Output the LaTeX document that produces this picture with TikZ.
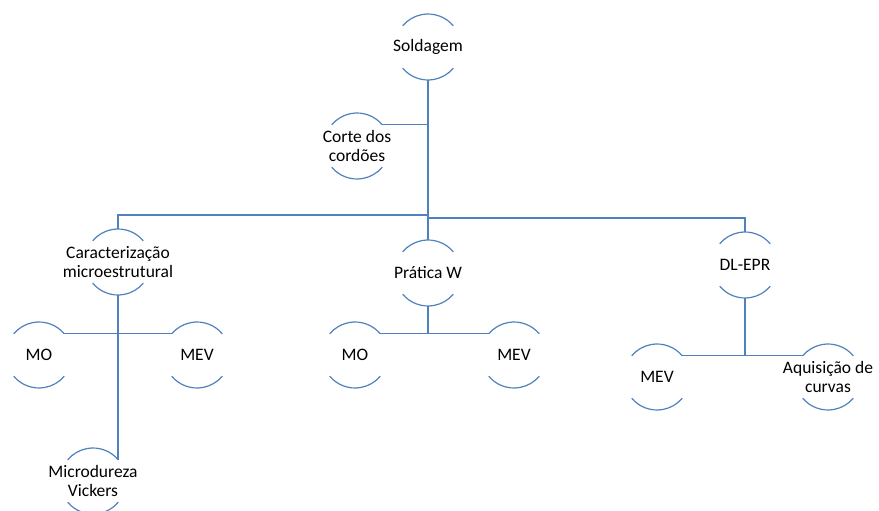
\documentclass[tikz,border=0pt]{standalone}
\usepackage{fontspec}
\setmainfont{Carlito}
\usetikzlibrary{calc}
\definecolor{linkblue}{RGB}{79,129,189}

\begin{document}
\begin{tikzpicture}[x=1pt, y=1pt,
    bubble/.style={font=\fontsize{17.5}{19}\selectfont, align=center, inner sep=0pt},
    link/.style={draw=linkblue, line width=1.2pt}]
    \useasboundingbox (0,0) rectangle (879,-511);

    % Top of the tree
    \node[bubble] (sold) at (428,-47) {Soldagem};
    \node[bubble] (corte) at (357,-146) {Corte dos\\cordões};

    % Second level
    \node[bubble] (carac) at (118,-262) {Caracterização\\microestrutural};
    \node[bubble] (pratica) at (428,-273) {Prática W};
    \node[bubble] (dlepr) at (745,-265) {DL-EPR};

    % Leaves
    \node[bubble] (mo1) at (39,-355) {MO};
    \node[bubble] (mev1) at (197,-355) {MEV};
    \node[bubble] (micro) at (93,-481) {Microdureza\\Vickers};
    \node[bubble] (mo2) at (355,-355) {MO};
    \node[bubble] (mev2) at (514,-355) {MEV};
    \node[bubble] (mev3) at (657,-377) {MEV};
    \node[bubble] (aquis) at (828,-377) {Aquisição de\\curvas};

    % Open circles (top and bottom arcs only) and their contact points
    \foreach \n in {sold, corte, carac, pratica, dlepr, mo1, mev1, micro, mo2, mev2, mev3, aquis} {
        \draw[link] ($(\n.center)+(40:33pt)$) arc[start angle=40, end angle=140, radius=33pt];
        \draw[link] ($(\n.center)+(220:33pt)$) arc[start angle=220, end angle=320, radius=33pt];
        \coordinate (\n-top) at ($(\n.center)+(0,33)$);
        \coordinate (\n-bot) at ($(\n.center)+(0,-33)$);
        \coordinate (\n-ne) at ($(\n.center)+(40:33pt)$);
        \coordinate (\n-nw) at ($(\n.center)+(140:33pt)$);
    }

    % Bus points on the trunk
    \coordinate (busL) at (428,-215);
    \coordinate (busR) at (428,-218);

    % Connectors
    \draw[link] (sold-bot) -- (pratica-top);
    \draw[link] (corte-ne) -- (corte-ne -| sold.center);
    \draw[link] (carac-top) |- (busL);
    \draw[link] (busR) -| (dlepr-top);
    \draw[link] (carac-bot) -- (carac-bot |- micro-ne);
    \draw[link] (mo1-ne) -- (mev1-nw);
    \draw[link] (pratica-bot) -- (pratica-bot |- mo2-ne);
    \draw[link] (mo2-ne) -- (mev2-nw);
    \draw[link] (dlepr-bot) -- (dlepr-bot |- mev3-ne);
    \draw[link] (mev3-ne) -- (aquis-nw);

\end{tikzpicture}
\end{document}
